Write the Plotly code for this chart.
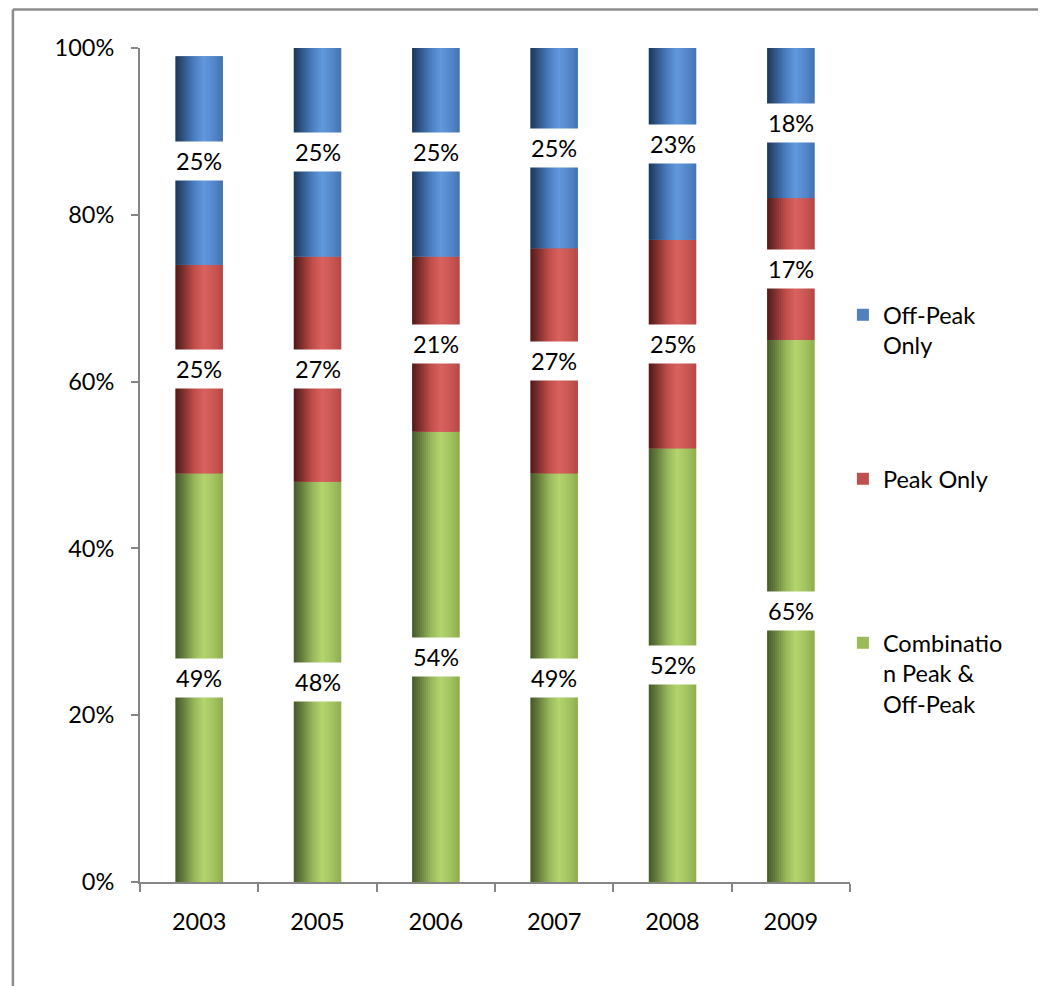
import plotly.graph_objects as go

years = ["2003", "2005", "2006", "2007", "2008", "2009"]
combination = [49, 48, 54, 49, 52, 65]
peak_only = [25, 27, 21, 27, 25, 17]
off_peak_only = [25, 25, 25, 25, 23, 18]

series_names = ["Combinatio<br>n Peak &<br>Off-Peak", "Peak Only", "Off-Peak<br>Only"]
series_values = [combination, peak_only, off_peak_only]
base_colors = ["#9bbb59", "#c0504d", "#4f81bd"]
legend_ids = ["legend3", "legend2", "legend"]

# gradient stops (position across bar width, colour) for cylinder-like shading
grad_stops = [
    [(0.0, "#46592a"), (0.15, "#62793a"), (0.4, "#98b85c"), (0.6, "#b4d46e"), (0.8, "#a3c461"), (1.0, "#8fae4f")],
    [(0.0, "#4f1a19"), (0.15, "#7a2d2b"), (0.4, "#c24f4c"), (0.6, "#d9615e"), (0.8, "#cc5754"), (1.0, "#b44845")],
    [(0.0, "#1e3655"), (0.15, "#2d5283"), (0.4, "#4c7fc2"), (0.6, "#6298dc"), (0.8, "#5588cb"), (1.0, "#4574b0")],
]

BAR_W = 0.4
N_SLICES = 24
FONT = "Lato"
FS = 23.5
AX_COL = "#868686"

xi = list(range(len(years)))


def hex2rgb(h):
    h = h.lstrip("#")
    return [int(h[i:i + 2], 16) for i in (0, 2, 4)]


def interp(stops, t):
    for (p0, c0), (p1, c1) in zip(stops[:-1], stops[1:]):
        if p0 <= t <= p1:
            f = (t - p0) / (p1 - p0) if p1 > p0 else 0
            a, b = hex2rgb(c0), hex2rgb(c1)
            return "rgb(%d,%d,%d)" % tuple(round(a[k] + (b[k] - a[k]) * f) for k in range(3))
    return stops[-1][1]


fig = go.Figure()

bases = [0] * len(years)
annotations = []
for s, (name, vals) in enumerate(zip(series_names, series_values)):
    # flat bar for legend entry
    fig.add_trace(go.Bar(
        x=xi, y=vals, base=bases, name=name, width=BAR_W,
        marker=dict(color=base_colors[s], line=dict(width=0)),
        legend=legend_ids[s], showlegend=True, hoverinfo="skip",
    ))
    sw = BAR_W / N_SLICES
    for i in range(N_SLICES):
        t = (i + 0.5) / N_SLICES
        fig.add_trace(go.Bar(
            x=xi, y=vals, base=bases,
            width=sw * (1.35 if i < N_SLICES - 1 else 1.0),
            offset=-BAR_W / 2 + i * sw,
            marker=dict(color=interp(grad_stops[s], t), line=dict(width=0)),
            showlegend=False, hoverinfo="skip",
        ))
    for j in xi:
        top = min(bases[j] + vals[j], 100)
        annotations.append(dict(
            x=j, y=(bases[j] + top) / 2, xref="x", yref="y",
            text=f"{vals[j]}%", showarrow=False,
            font=dict(family=FONT, size=FS, color="black"),
            bgcolor="white", borderpad=5,
        ))
    bases = [b + v for b, v in zip(bases, vals)]

FRAME_TOP = (882 - 9.5) / 834
shapes = [
    dict(type="line", xref="paper", yref="paper", x0=-0.179, x1=1.4, y0=FRAME_TOP, y1=FRAME_TOP,
         line=dict(color="#8c8c8c", width=2.5)),
    dict(type="line", xref="paper", yref="paper", x0=-0.179, x1=-0.179, y0=-0.2, y1=FRAME_TOP,
         line=dict(color="#8c8c8c", width=2.5)),
]

legend_common = dict(
    font=dict(family=FONT, size=FS, color="black"),
    bgcolor="rgba(0,0,0,0)", valign="top", xanchor="left", yanchor="top",
    itemclick=False, itemdoubleclick=False,
)

fig.update_layout(
    width=1046, height=986,
    margin=dict(l=132, r=204, t=40, b=112),
    paper_bgcolor="white", plot_bgcolor="white",
    barmode="overlay",
    font=dict(family=FONT, size=FS, color="black"),
    xaxis=dict(
        range=[-0.5, len(years) - 0.5], showgrid=False, zeroline=False,
        showline=True, linecolor=AX_COL, linewidth=2,
        tickvals=xi, ticktext=years, ticks="", ticklabelstandoff=18,
        minor=dict(tickvals=[j - 0.5 for j in range(len(years) + 1)], ticks="outside",
                   ticklen=8, tickcolor=AX_COL, tickwidth=2, showgrid=False),
        tickfont=dict(family=FONT, size=FS, color="black"),
    ),
    yaxis=dict(
        range=[0, 100], showgrid=False, zeroline=False, showline=True, linecolor=AX_COL, linewidth=2,
        tickvals=[0, 20, 40, 60, 80, 100], ticktext=[f"{v}%" for v in [0, 20, 40, 60, 80, 100]],
        ticks="outside", ticklen=7, tickcolor=AX_COL, tickwidth=2, ticklabelstandoff=12,
        tickfont=dict(family=FONT, size=FS, color="black"),
    ),
    legend=dict(x=0.99, y=(882 - 293) / 834, **legend_common),
    legend2=dict(x=0.99, y=(882 - 457) / 834, **legend_common),
    legend3=dict(x=0.99, y=(882 - 621) / 834, **legend_common),
    annotations=annotations,
    shapes=shapes,
)

fig.write_html("out.html")
